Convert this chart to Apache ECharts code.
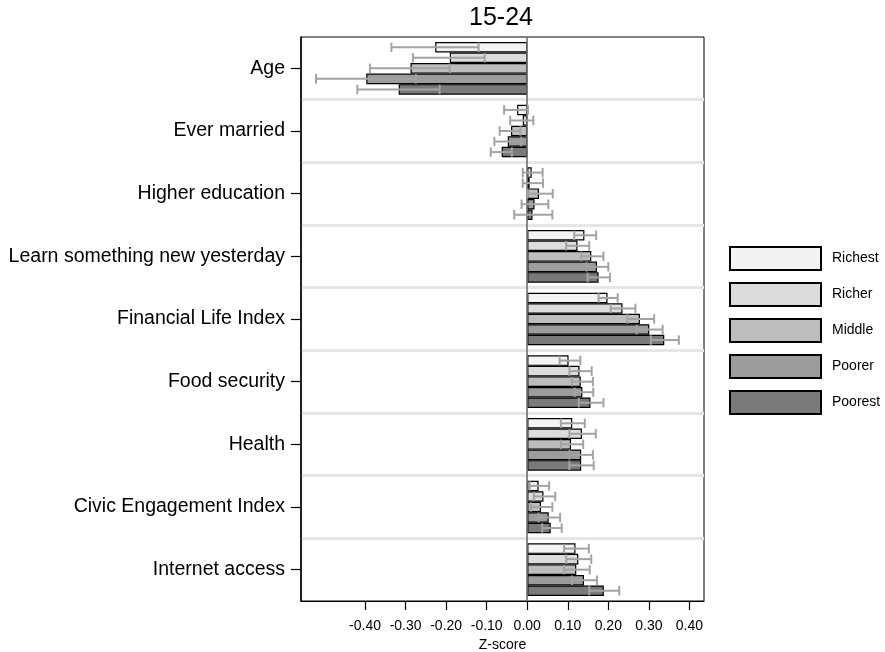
<!DOCTYPE html>
<html>
<head>
<meta charset="utf-8">
<script src="https://cdn.jsdelivr.net/npm/echarts@6/dist/echarts.min.js"></script>
<style>
html,body{margin:0;padding:0;background:#fff;}
#chart{width:885px;height:652px;}
</style>
</head>
<body>
<div id="chart"></div>
<script>
var categories = ['Age','Ever married','Higher education','Learn something new yesterday','Financial Life Index','Food security','Health','Civic Engagement Index','Internet access'];
var groups = ['Richest','Richer','Middle','Poorer','Poorest'];
var xTicks = [-0.4,-0.3,-0.2,-0.1,0,0.1,0.2,0.3,0.4];

var richest   = [-0.227,-0.025, 0.011, 0.141, 0.198, 0.102, 0.111, 0.028, 0.119];
var richestLo = [-0.335,-0.057,-0.011, 0.116, 0.176, 0.080, 0.083, 0.006, 0.091];
var richestHi = [-0.120, 0.002, 0.038, 0.170, 0.223, 0.131, 0.142, 0.054, 0.152];

var richer    = [-0.191,-0.011, 0.006, 0.124, 0.235, 0.129, 0.135, 0.040, 0.126];
var richerLo  = [-0.282,-0.042,-0.011, 0.096, 0.206, 0.104, 0.104, 0.016, 0.096];
var richerHi  = [-0.105, 0.015, 0.039, 0.153, 0.267, 0.159, 0.169, 0.069, 0.158];

var middle    = [-0.288,-0.040, 0.029, 0.158, 0.278, 0.132, 0.108, 0.034, 0.121];
var middleLo  = [-0.388,-0.068, 0.001, 0.133, 0.247, 0.110, 0.083, 0.009, 0.091];
var middleHi  = [-0.191,-0.017, 0.063, 0.188, 0.313, 0.162, 0.138, 0.062, 0.154];

var poorer    = [-0.397,-0.048, 0.018, 0.172, 0.301, 0.136, 0.133, 0.053, 0.140];
var poorerLo  = [-0.521,-0.081,-0.014, 0.146, 0.270, 0.117, 0.104, 0.028, 0.110];
var poorerHi  = [-0.275,-0.015, 0.052, 0.200, 0.334, 0.163, 0.162, 0.081, 0.172];

var poorest   = [-0.317,-0.063, 0.013, 0.176, 0.338, 0.156, 0.133, 0.058, 0.189];
var poorestLo = [-0.419,-0.090,-0.032, 0.149, 0.305, 0.127, 0.104, 0.037, 0.153];
var poorestHi = [-0.216,-0.038, 0.062, 0.204, 0.374, 0.188, 0.164, 0.085, 0.227];

var values = [richest, richer, middle, poorer, poorest];
var lows = [richestLo, richerLo, middleLo, poorerLo, poorestLo];
var highs = [richestHi, richerHi, middleHi, poorerHi, poorestHi];
var colors = ['#f3f3f3','#dcdcdc','#bdbdbd','#9c9c9c','#7a7a7a'];

var GAP = 0.16;
var FONT = 'Liberation Sans, Arial, sans-serif';

var series = [];
groups.forEach(function(g, i){
  var s = {
    name: g,
    type: 'bar',
    data: values[i],
    barGap: '0%',
    barCategoryGap: (GAP*100) + '%',
    itemStyle: {color: colors[i], borderColor: '#000', borderWidth: 1.2},
    emphasis: {disabled: true},
    z: 2
  };
  if (i === 0) {
    s.markLine = {
      silent: true, symbol: 'none', label: {show: false},
      lineStyle: {color: '#6e6e6e', width: 1.6, type: 'solid'},
      data: [{xAxis: 0}], z: 5
    };
  }
  series.push(s);
});

groups.forEach(function(g, i){
  var data = categories.map(function(c, k){ return [k, lows[i][k], highs[i][k]]; });
  series.push({
    name: 'err_' + g,
    type: 'custom',
    data: data,
    encode: {y: 0, x: [1, 2]},
    z: 6,
    silent: true,
    renderItem: function(params, api){
      var cat = api.value(0);
      var pLo = api.coord([api.value(1), cat]);
      var pHi = api.coord([api.value(2), cat]);
      var band = api.size([0, 1])[1];
      var groupW = band * (1 - GAP);
      var barH = groupW / groups.length;
      var y = pLo[1] - groupW / 2 + (i + 0.5) * barH;
      var cap = barH * 0.45;
      var st = {stroke: '#a3a3a3', lineWidth: 2, fill: null};
      return {
        type: 'group',
        children: [
          {type: 'line', shape: {x1: pLo[0], y1: y, x2: pHi[0], y2: y}, style: st},
          {type: 'line', shape: {x1: pLo[0], y1: y - cap, x2: pLo[0], y2: y + cap}, style: st},
          {type: 'line', shape: {x1: pHi[0], y1: y - cap, x2: pHi[0], y2: y + cap}, style: st}
        ]
      };
    }
  });
});

var chart = echarts.init(document.getElementById('chart'), null, {renderer: 'canvas'});
chart.setOption({
  animation: false,
  backgroundColor: '#fff',
  title: {
    text: '15-24', left: 469, top: 6, padding: 0,
    textStyle: {fontFamily: FONT, fontSize: 25, fontWeight: 'normal', color: '#000'}
  },
  legend: {
    data: groups,
    orient: 'vertical',
    left: 724, top: 241,
    itemWidth: 91, itemHeight: 23, itemGap: 11,
    icon: 'rect',
    selectedMode: false,
    textStyle: {fontFamily: FONT, fontSize: 14, color: '#000', padding: [0,0,0,6]}
  },
  grid: {
    left: 301, right: 181, top: 37, bottom: 51,
    outerBoundsMode: 'none', containLabel: false,
    show: true, borderColor: '#000', borderWidth: 1, backgroundColor: 'transparent'
  },
  xAxis: {
    type: 'value',
    min: -0.558, max: 0.436,
    name: 'Z-score', nameLocation: 'middle', nameGap: 34,
    nameTextStyle: {fontFamily: FONT, fontSize: 14, color: '#000'},
    axisLine: {show: true, onZero: false, lineStyle: {color: '#000', width: 1}},
    axisTick: {show: true, length: 9, customValues: xTicks, lineStyle: {color: '#000', width: 1.2}},
    axisLabel: {customValues: xTicks, margin: 18, fontFamily: FONT, fontSize: 14, color: '#000',
      formatter: function(v){ return v.toFixed(2); }},
    splitLine: {show: false}
  },
  yAxis: {
    type: 'category',
    data: categories,
    inverse: true,
    axisLine: {show: true, onZero: false, lineStyle: {color: '#000', width: 1.5}},
    axisTick: {show: true, length: 10, alignWithLabel: true, lineStyle: {color: '#000', width: 1.2}},
    axisLabel: {margin: 16, fontFamily: FONT, fontSize: 19.5, color: '#000', padding: [3,0,0,0]},
    splitLine: {show: true, showMinLine: false, showMaxLine: false, lineStyle: {color: '#e6e6e6', width: 3}}
  },
  series: series
});
</script>
</body>
</html>
